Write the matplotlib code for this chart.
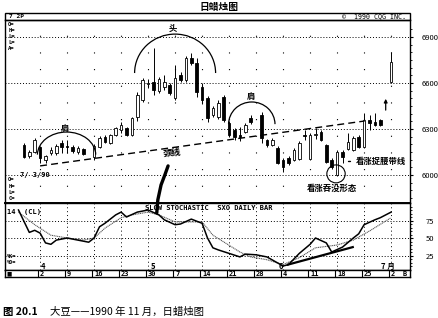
import matplotlib
matplotlib.use("Agg")
import matplotlib.pyplot as plt
import numpy as np
from matplotlib.patches import Arc, Ellipse, Rectangle

plt.rcParams['font.family'] = ['Noto Sans CJK SC', 'DejaVu Sans']

# daily candles, x = trading-day index (weekdays, holidays left empty)
days   = [0, 1, 2, 3, 4, 5, 6, 7, 8, 9, 10, 11, 13, 14, 15, 16, 17, 18, 19, 20,
          21, 22, 23, 24, 25, 26, 27, 28, 29, 30, 31, 32, 33, 34, 35, 36, 37, 38, 39, 40,
          41, 42, 44, 45, 46, 47, 48, 49, 50, 51, 52, 53, 54, 55, 56, 57, 58, 59, 60, 61,
          62, 63, 64, 65, 66, 68]
opens  = [6196, 6124, 6150, 6183, 6098, 6143, 6143, 6209, 6189, 6183, 6150, 6170, 6117, 6183, 6248, 6209, 6261, 6293, 6306, 6261,
          6378, 6489, 6593, 6606, 6548, 6574, 6587, 6502, 6652, 6619, 6763, 6730, 6574, 6502, 6391, 6378, 6509, 6339, 6293, 6261,
          6280, 6372, 6391, 6228, 6196, 6176, 6098, 6111, 6098, 6104, 6261, 6104, 6261, 6280, 6196, 6098, 6000, 6150, 6170, 6163,
          6248, 6183, 6359, 6346, 6359, 6606]
highs  = [6209, 6163, 6241, 6189, 6130, 6183, 6202, 6228, 6228, 6196, 6189, 6176, 6202, 6254, 6261, 6267, 6313, 6345, 6313, 6378,
          6541, 6632, 6626, 6828, 6639, 6652, 6600, 6717, 6672, 6776, 6795, 6763, 6600, 6515, 6450, 6489, 6522, 6352, 6306, 6313,
          6339, 6391, 6411, 6235, 6241, 6189, 6111, 6124, 6176, 6222, 6293, 6274, 6306, 6293, 6202, 6111, 6163, 6163, 6274, 6254,
          6261, 6404, 6391, 6404, 6365, 6802]
lows   = [6111, 6111, 6143, 6078, 6078, 6130, 6130, 6143, 6143, 6143, 6137, 6130, 6098, 6176, 6209, 6202, 6254, 6274, 6254, 6254,
          6352, 6476, 6567, 6522, 6535, 6554, 6522, 6489, 6606, 6606, 6717, 6509, 6463, 6346, 6378, 6365, 6346, 6248, 6228, 6222,
          6274, 6332, 6209, 6183, 6189, 6072, 6020, 6065, 6091, 6098, 6228, 6098, 6235, 6222, 6078, 6039, 5994, 6078, 6163, 6156,
          6176, 6176, 6293, 6320, 6320, 6600]
closes = [6117, 6150, 6228, 6111, 6124, 6163, 6189, 6183, 6183, 6156, 6176, 6137, 6189, 6241, 6215, 6261, 6306, 6326, 6261, 6372,
          6522, 6619, 6600, 6554, 6626, 6606, 6535, 6632, 6619, 6763, 6730, 6541, 6489, 6372, 6437, 6470, 6359, 6261, 6248, 6248,
          6326, 6346, 6241, 6196, 6228, 6078, 6052, 6078, 6163, 6209, 6254, 6261, 6267, 6228, 6085, 6052, 6150, 6117, 6215, 6241,
          6183, 6359, 6339, 6326, 6326, 6737]

# slow stochastic
k_days = [-1, 1, 2, 3, 4, 5, 6, 8, 10, 12, 13, 14, 15, 17, 18, 19, 21, 23, 25, 26, 28, 29, 31, 33,
          34, 35, 36, 38, 40, 41, 43, 45, 48, 49, 51, 53, 54, 56, 57, 59, 61, 62, 63, 65, 66, 68]
k_vals = [90, 58, 61, 57, 43, 41, 47, 50, 47, 44, 50, 66, 71, 83, 87, 80, 87, 90, 83, 76, 69, 70, 77, 71,
          50, 36, 33, 28, 23, 27, 26, 23, 10, 12, 28, 41, 50, 43, 30, 37, 50, 56, 69, 76, 79, 87]
d_days = [-1, 2, 5, 8, 11, 13, 15, 18, 20, 23, 25, 28, 30, 33, 35, 40, 42, 45, 48, 51, 54, 58, 61, 64, 68]
d_vals = [87, 69, 54, 50, 47, 50, 64, 79, 83, 87, 83, 73, 73, 73, 54, 30, 23, 19, 12, 22, 36, 40, 47, 60, 79]

mondays = [3, 8, 13, 18, 23, 28, 33, 38, 43, 48, 53, 58, 63, 68]
monday_labels = ['2', '9', '16', '23', '30', '7', '14', '21', '28', '4', '11', '18', '25', '2']
month_pos = [3.5, 24, 47.5, 67.5]
month_labels = ['4', '5', '6', '7 月']
price_ticks = [6000, 6300, 6600, 6900]
stoch_ticks = [25, 50, 75]

W, H = 438, 318
def fx(x): return x / W
def fy(y): return 1 - y / H

fig = plt.figure(figsize=(4.38, 3.18), dpi=100)
XL = (-3.5, 71.5)

# ---- main candle panel
ax = fig.add_axes([fx(5), fy(203), fx(405), 183 / H])
ax.set_xlim(*XL)
ax.set_ylim(5817, 7011)
ax.set_xticks(mondays)
ax.tick_params(axis='x', length=0, labelbottom=False)
ax.yaxis.tick_right()
ax.set_yticks(price_ticks)
ax.set_yticklabels([str(t) for t in price_ticks])
ax.set_yticks(np.arange(5850, 7000, 50), minor=True)
ax.tick_params(axis='y', which='major', labelsize=5.5, length=2.5, pad=6, width=0.8)
ax.tick_params(axis='y', which='minor', length=1.5, width=0.6)
ax.grid(axis='x', color='black', linestyle=(0, (1, 14)), linewidth=0.8)
ax.grid(axis='y', color='black', linestyle=(0, (1, 2)), linewidth=0.7)
for s in ax.spines.values():
    s.set_linewidth(1.0)

o = np.array(opens); c = np.array(closes)
ax.vlines(days, lows, highs, color='black', linewidth=0.7, zorder=3)
body = np.maximum(np.abs(c - o), 6)
cols = ['white' if cc >= oo else 'black' for oo, cc in zip(o, c)]
ax.bar(days, body, bottom=np.minimum(o, c), width=0.5, color=cols,
       edgecolor='black', linewidth=0.6, zorder=4)

# head and shoulders annotations
ax.add_patch(Arc((28, 6665), 15, 508, theta1=0, theta2=180, lw=0.9, zorder=5))
ax.text(27.6, 6958, '头', fontsize=6, fontweight='bold', ha='center', va='center')
ax.add_patch(Arc((7.9, 6130), 10.8, 300, theta1=25, theta2=155, lw=0.9, zorder=5))
ax.text(7.6, 6305, '肩', fontsize=6, fontweight='bold', ha='center', va='center')
ax.add_patch(Arc((42.2, 6330), 8.6, 292, theta1=20, theta2=160, lw=0.9, zorder=5))
ax.text(42.0, 6512, '肩', fontsize=6, fontweight='bold', ha='center', va='center')
ax.plot([3, 63.1], [6059, 6352], color='black', lw=1.0, linestyle=(0, (5, 3)), zorder=5)
ax.text(27.4, 6140, '颈线', fontsize=6.5, fontweight='bold', ha='center', va='center', rotation=8)
ax.plot([24.6, 24.8, 25.4, 26.1, 26.7], [5752, 5837, 5935, 6000, 6059],
        color='black', lw=2.4, clip_on=False, zorder=6, solid_capstyle='round')
ax.add_patch(Ellipse((57.8, 6007), 3.4, 117, fill=False, lw=0.8, zorder=5))
ax.text(57, 5915, '看涨吞没形态', fontsize=6, fontweight='bold', ha='center', va='center')
ax.annotate('看涨捉腰带线', xy=(59.6, 6088), xytext=(61.5, 6088), fontsize=6, fontweight='bold',
            va='center', ha='left', arrowprops=dict(arrowstyle='-', lw=1.0, color='black'))
ax.annotate('', xy=(67, 6515), xytext=(67, 6405),
            arrowprops=dict(arrowstyle='-|>', lw=0.9, color='black', mutation_scale=5))

mono = dict(family='DejaVu Sans Mono', fontweight='bold')
for k, lab in enumerate(['O=', 'H=', 'L=', 'L=', 'A=']):
    ax.text(0.008, 1 - (4 + k * 6) / 183, lab, transform=ax.transAxes, fontsize=4, va='center', **mono)
ax.text(0.038, 1 - 155 / 183, '7/ 3/90', transform=ax.transAxes, fontsize=5, va='center', **mono)
for k, lab in enumerate(['O=', 'H=', 'L=', 'C=']):
    ax.text(0.008, 1 - (160 + k * 6) / 183, lab, transform=ax.transAxes, fontsize=4, va='center', **mono)

# header strip
fig.add_artist(Rectangle((fx(5), fy(20)), 405 / W, 7 / H, fill=False, lw=1.0, transform=fig.transFigure))
fig.text(fx(9), fy(16.5), '7 2P', fontsize=4.5, va='center', **mono)
fig.text(fx(342), fy(16.5), '©  1990 CQG INC.', fontsize=4.8, va='center', family='DejaVu Sans Mono')
fig.text(0.5, fy(7), '日蜡烛图', fontsize=7, fontweight='bold', ha='center', va='center')

# ---- stochastic panel
ax2 = fig.add_axes([fx(5), fy(270), fx(405), 67 / H])
ax2.set_facecolor('none')
ax2.set_xlim(*XL)
ax2.set_ylim(4.3, 100)
ax2.set_xticks(mondays)
ax2.tick_params(axis='x', length=0, labelbottom=False)
ax2.yaxis.tick_right()
ax2.set_yticks(stoch_ticks)
ax2.set_yticklabels([str(t) for t in stoch_ticks])
ax2.set_yticks(np.arange(10, 100, 5), minor=True)
ax2.tick_params(axis='y', which='major', labelsize=5.5, length=2.5, pad=9, width=0.8)
ax2.tick_params(axis='y', which='minor', length=1.5, width=0.6)
ax2.grid(axis='x', color='black', linestyle=(0, (1, 3)), linewidth=0.7)
ax2.grid(axis='y', color='black', linestyle=(0, (1, 2)), linewidth=0.7)
for s in ax2.spines.values():
    s.set_linewidth(1.0)
ax2.spines['top'].set_linewidth(1.4)

ax2.plot(d_days, d_vals, color='#555555', lw=0.8, linestyle=(0, (1, 0.6)))
ax2.plot(k_days, k_vals, color='black', lw=1.1)
ax2.plot([48.9, 60.9], [12, 37], color='black', lw=1.6)

ax2.text(0.006, 1 - 9 / 67, '14  (CL)', transform=ax2.transAxes, fontsize=5, va='center', **mono)
ax2.text(0.345, 1 - 5 / 67, 'SLOW STOCHASTIC  SXO DAILY BAR', transform=ax2.transAxes,
         fontsize=5, va='center', **mono)
ax2.text(0.004, 1 - 54 / 67, '%K=', transform=ax2.transAxes, fontsize=3.8, va='center', **mono)
ax2.text(0.004, 1 - 59 / 67, '%D=', transform=ax2.transAxes, fontsize=3.8, va='center', **mono)
for pos, lab in zip(month_pos, month_labels):
    ax2.text(pos, 10, lab, fontsize=5.5, fontweight='bold', ha='center', va='center')

# ---- date strip
ax3 = fig.add_axes([fx(5), fy(277), fx(405), 7 / H])
ax3.set_xlim(*XL)
ax3.set_ylim(0, 1)
ax3.set_xticks([])
ax3.set_yticks([])
for s in ax3.spines.values():
    s.set_linewidth(1.0)
ax3.vlines([m - 0.35 for m in mondays], 0, 1, color='black', lw=0.8)
for m, lab in zip(mondays, monday_labels):
    ax3.text(m, 0.45, lab, fontsize=5, ha='left', va='center', **mono)
ax3.text(-3.3, 0.45, '■', fontsize=4, ha='left', va='center', family='DejaVu Sans')
ax3.text(70.2, 0.45, 'B', fontsize=5, ha='left', va='center', **mono)

# caption
fig.text(fx(3), fy(312), '图 20.1', fontsize=7.5, fontweight='bold', va='center')
fig.text(fx(50), fy(312), '大豆——1990 年 11 月，日蜡烛图', fontsize=7.5, va='center')

fig.savefig('out.png', dpi=100)
